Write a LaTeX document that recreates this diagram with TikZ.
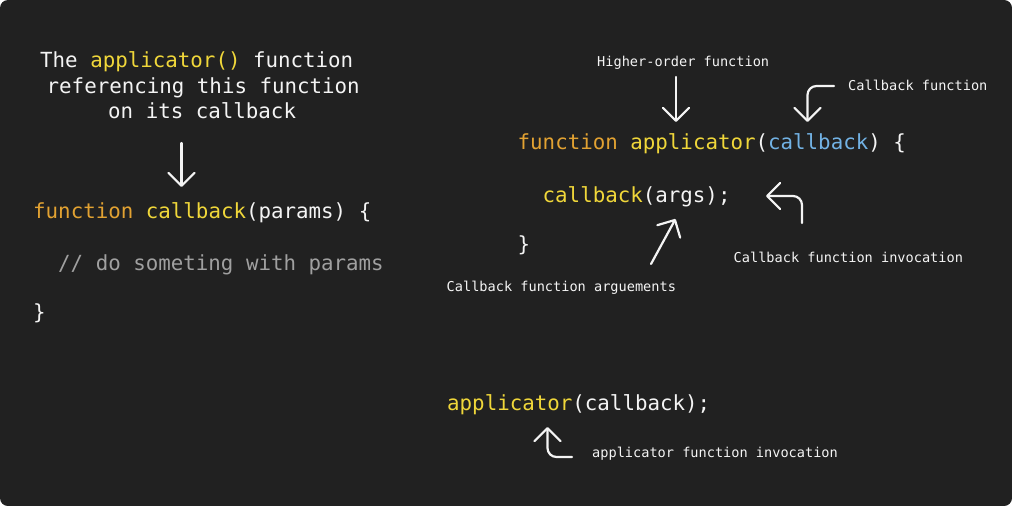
\documentclass[tikz,border=0pt]{standalone}
\usepackage{fontspec}
\setmonofont{DejaVu Sans Mono}
\usetikzlibrary{arrows.meta}
\definecolor{bg}{HTML}{212121}
\definecolor{kw}{HTML}{E2A232}
\definecolor{fn}{HTML}{F0D73A}
\definecolor{par}{HTML}{72B2E4}
\definecolor{cm}{HTML}{A0A0A0}
\definecolor{fg}{HTML}{F4F4F4}
\begin{document}
\begin{tikzpicture}[x=1pt,y=-1pt,
  code/.style={anchor=base west,inner sep=0pt,text=fg,font=\fontsize{20.8}{24}\selectfont\ttfamily},
  lbl/.style={anchor=base west,inner sep=0pt,text=fg,font=\fontsize{13.6}{16}\selectfont\ttfamily},
  arr/.style={draw=fg,line width=2.2pt,line cap=round,line join=round,rounded corners=9pt,
    -{Straight Barb[length=13pt,width=26pt,line cap=round,line join=round]}}]
\useasboundingbox (0,0) rectangle (1012,506);
\fill[bg,rounded corners=8pt] (0,0) rectangle (1012,506);

% left column
\node[code] (t1) at (40,67) {The \textcolor{fn}{applicator()} function};
\node[code] (t2) at (46.5,93) {referencing this function};
\node[code] (t3) at (108,118) {on its callback};
\coordinate (a1s) at (181.5,143);
\coordinate (a1e) at (181.5,187);
\draw[arr] (a1s) -- (a1e);
\node[code] (l1) at (33,218) {\textcolor{kw}{function} \textcolor{fn}{callback}(params) \{};
\node[code,text=cm] (l2) at (58,270) {// do someting with params};
\node[code] (l3) at (33,319) {\}};

% right column
\node[lbl] (hof) at (597,66) {Higher-order function};
\node[lbl] (cbf) at (848,90) {Callback function};
\node[code] (r1) at (517.5,149) {\textcolor{kw}{function} \textcolor{fn}{applicator}(\textcolor{par}{callback}) \{};
\node[code] (r2) at (542.5,202) {\textcolor{fn}{callback}(args);};
\node[code] (r3) at (517.5,251) {\}};
\node[lbl] (cfi) at (733.5,262) {Callback function invocation};
\node[lbl] (cfa) at (446.5,291) {Callback function arguements};

\coordinate (hs) at (676,77);
\coordinate (he) at (676,122);
\draw[arr] (hs) -- (he);

\coordinate (cs) at (834,86);
\coordinate (cc) at (807.5,86);
\coordinate (ce) at (807.5,122);
\draw[arr] (cs) -- (cc) -- (ce);

\coordinate (is) at (802,223);
\coordinate (ic) at (802,196);
\coordinate (ie) at (766,196);
\draw[arr] (is) -- (ic) -- (ie);

\coordinate (gs) at (651,264);
\coordinate (ge) at (675.5,219);
\draw[arr] (gs) -- (ge);

% bottom
\node[code] (b1) at (447,410) {\textcolor{fn}{applicator}(callback);};
\node[lbl] (afi) at (592,457) {applicator function invocation};
\coordinate (bs) at (572,457);
\coordinate (bc) at (547.5,457);
\coordinate (be) at (547.5,427);
\draw[arr] (bs) -- (bc) -- (be);
\end{tikzpicture}
\end{document}
